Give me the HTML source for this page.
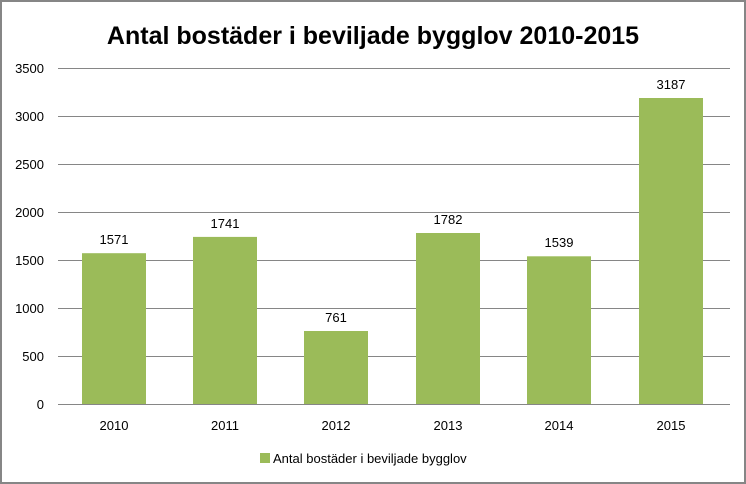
<!DOCTYPE html>
<html><head><meta charset="utf-8"><style>
html,body{margin:0;padding:0;background:#fff}
svg{display:block}
text{font-family:"Liberation Sans",Calibri,sans-serif}
</style></head><body>
<svg width="746" height="484" viewBox="0 0 746 484" xmlns="http://www.w3.org/2000/svg">
<rect x="1" y="1" width="744" height="482" fill="#fff" stroke="#868686" stroke-width="2"/>
<text x="373" y="44" text-anchor="middle" font-size="25" font-weight="bold" fill="#000">Antal bostäder i beviljade bygglov 2010-2015</text>
<g stroke="#868686" stroke-width="1">
<line x1="58" y1="68.5" x2="730" y2="68.5"/>
<line x1="58" y1="116.5" x2="730" y2="116.5"/>
<line x1="58" y1="164.5" x2="730" y2="164.5"/>
<line x1="58" y1="212.5" x2="730" y2="212.5"/>
<line x1="58" y1="260.5" x2="730" y2="260.5"/>
<line x1="58" y1="308.5" x2="730" y2="308.5"/>
<line x1="58" y1="356.5" x2="730" y2="356.5"/>
<line x1="58" y1="404.5" x2="730" y2="404.5"/>
</g>
<g font-size="13" fill="#000" text-anchor="end">
<text x="44" y="73">3500</text><text x="44" y="121">3000</text><text x="44" y="169">2500</text>
<text x="44" y="217">2000</text><text x="44" y="265">1500</text><text x="44" y="313">1000</text>
<text x="44" y="361">500</text><text x="44" y="409">0</text>
</g>
<g fill="#9bbb59">
<rect x="82" y="253.2" width="64" height="150.8"/>
<rect x="193" y="236.9" width="64" height="167.1"/>
<rect x="304" y="331" width="64" height="73"/>
<rect x="416" y="233" width="64" height="171"/>
<rect x="527" y="256.3" width="64" height="147.7"/>
<rect x="639" y="98" width="64" height="306"/>
</g>
<g font-size="13" fill="#000" text-anchor="middle">
<text x="114" y="244">1571</text><text x="225" y="228">1741</text><text x="336" y="322">761</text>
<text x="448" y="224">1782</text><text x="559" y="247">1539</text><text x="671" y="89">3187</text>
<text x="114" y="430">2010</text><text x="225" y="430">2011</text><text x="336" y="430">2012</text>
<text x="448" y="430">2013</text><text x="559" y="430">2014</text><text x="671" y="430">2015</text>
</g>
<rect x="260" y="453" width="10" height="10" fill="#9bbb59"/>
<text x="273" y="463" font-size="13" fill="#000">Antal bostäder i beviljade bygglov</text>
</svg>
</body></html>
